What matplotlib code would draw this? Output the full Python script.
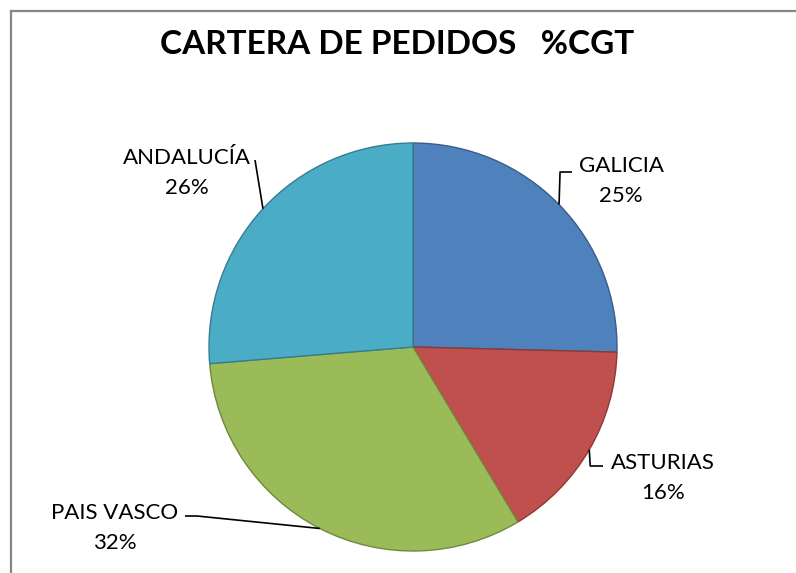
import numpy as np
import matplotlib.pyplot as plt

# CARTERA DE PEDIDOS %CGT
regions = ['GALICIA', 'ASTURIAS', 'PAIS VASCO', 'ANDALUCÍA']
shares = [25.4, 16.0, 32.3, 26.3]
colors = ['#4F81BD', '#C0504D', '#9BBB59', '#4BACC6']
edges = ['#385D8A', '#8C3836', '#71893F', '#357D91']

W, H = 796, 573
plt.rcParams['font.family'] = ['Lato', 'DejaVu Sans']

fig = plt.figure(figsize=(W / 100, H / 100), dpi=100)
ax = fig.add_axes([0, 0, 1, 1])

cx, cy, r = 413, H - 347, 204
wedges, _ = ax.pie(shares, colors=colors, startangle=90, counterclock=False,
                   center=(cx, cy), radius=r, frame=True,
                   wedgeprops=dict(linewidth=1.0))
for w, ec in zip(wedges, edges):
    w.set_edgecolor(ec)
ax.set_xlim(0, W)
ax.set_ylim(0, H)
ax.set_aspect('equal')
ax.axis('off')

def top(y):
    return H - y

# label centres (pixels from top) and leader bends
labels = {
    'GALICIA': dict(text=(621, 181), bend=[('v', 172), (572, 172)]),
    'ASTURIAS': dict(text=(663, 478), bend=[('v', 466), (603, 466)]),
    'PAIS VASCO': dict(text=(115, 528), bend=[(197, 516), (185, 516)]),
    'ANDALUCÍA': dict(text=(187, 173), bend=[(255, 160)]),
}

for w, name, val in zip(wedges, regions, shares):
    ang = np.deg2rad((w.theta1 + w.theta2) / 2)
    ex, ey = cx + r * np.cos(ang), cy + r * np.sin(ang)
    xs, ys = [ex], [ey]
    for p in labels[name]['bend']:
        if p[0] == 'v':
            xs.append(ex + 1)
        else:
            xs.append(p[0])
        ys.append(top(p[1]))
    ax.plot(xs, ys, color='black', lw=1.2, solid_capstyle='butt')
    tx, ty = labels[name]['text']
    ax.text(tx, top(ty), f'{name}\n{val:.0f}%', ha='center', va='center',
            fontsize=16, linespacing=1.6, color='black')

ax.text(397, top(45), 'CARTERA DE PEDIDOS   %CGT', ha='center', va='center',
        fontsize=24, fontweight='bold', color='black')

# chart frame (cropped: only top and left edges visible)
ax.plot([11, W], [top(11), top(11)], color='#868686', lw=1.6, clip_on=False)
ax.plot([11, 11], [top(11), 0], color='#868686', lw=1.6, clip_on=False)

fig.savefig('out.png', dpi=100)
